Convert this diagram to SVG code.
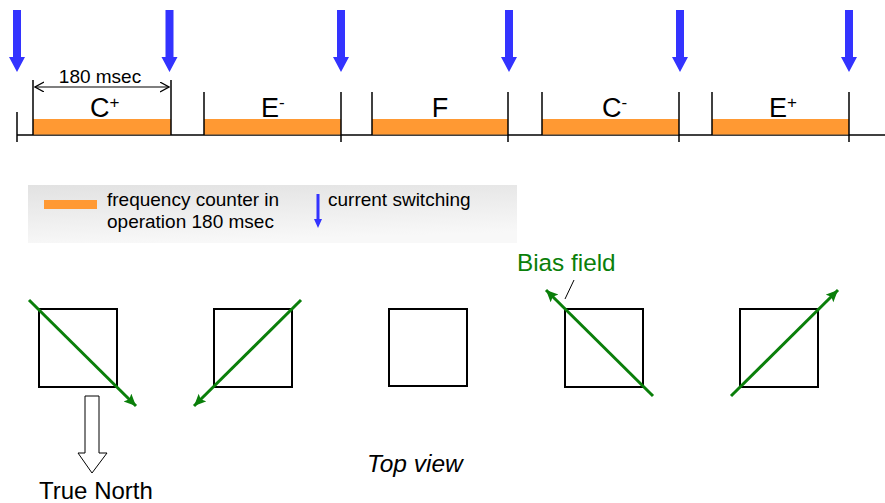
<svg xmlns="http://www.w3.org/2000/svg" width="885" height="503" viewBox="0 0 885 503">
<style>
.t{font-family:"Liberation Sans",Arial,sans-serif;fill:#000}
.tick{stroke:#000;stroke-width:1.5;fill:none}
.bar{fill:#FF9933}
.blue{fill:#3333FF}
.sq{fill:none;stroke:#000;stroke-width:2}
.field{stroke:#0A7F0A;stroke-width:3;fill:none;marker-end:url(#gh)}
</style>
<defs>
<marker id="gh" markerUnits="userSpaceOnUse" markerWidth="13" markerHeight="12" refX="12" refY="5.5" orient="auto" viewBox="0 0 13 12">
<path d="M0,0 L12,5.5 L0,11 L2.5,5.5 z" fill="#0A7F0A"/>
</marker>
<marker id="oa" markerUnits="userSpaceOnUse" markerWidth="10" markerHeight="12" refX="9" refY="5" orient="auto-start-reverse" viewBox="0 0 10 12">
<path d="M0,0 L9,5 L0,10" fill="none" stroke="#000" stroke-width="1.2"/>
</marker>
<linearGradient id="lg" x1="0" y1="0" x2="0.25" y2="1">
<stop offset="0" stop-color="#e2e2e2"/>
<stop offset="1" stop-color="#f8f8f8"/>
</linearGradient>
<polygon id="barrow" points="-4,10 4,10 4,57 8,57 0,72 -8,57 -4,57"/>
</defs>

<g id="timeline">
<line class="tick" x1="17" y1="135" x2="885" y2="135"/>
<rect class="bar" x="33" y="119" width="138" height="15.5"/>
<rect class="bar" x="204" y="119" width="137" height="15.5"/>
<rect class="bar" x="372" y="119" width="136" height="15.5"/>
<rect class="bar" x="542" y="119" width="137" height="15.5"/>
<rect class="bar" x="712" y="119" width="137" height="15.5"/>
<line class="tick" x1="17" y1="112" x2="17" y2="142"/>
<line class="tick" x1="33" y1="80" x2="33" y2="135"/>
<line class="tick" x1="171" y1="80" x2="171" y2="135"/>
<line class="tick" x1="204" y1="92" x2="204" y2="135"/>
<line class="tick" x1="341" y1="92" x2="341" y2="142"/>
<line class="tick" x1="372" y1="92" x2="372" y2="135"/>
<line class="tick" x1="508" y1="92" x2="508" y2="142"/>
<line class="tick" x1="542" y1="92" x2="542" y2="135"/>
<line class="tick" x1="679" y1="92" x2="679" y2="142"/>
<line class="tick" x1="712" y1="92" x2="712" y2="135"/>
<line class="tick" x1="849" y1="92" x2="849" y2="142"/>
</g>

<g id="switch-arrows">
<use href="#barrow" class="blue" x="17" y="0"/>
<use href="#barrow" class="blue" x="169.5" y="0"/>
<use href="#barrow" class="blue" x="341" y="0"/>
<use href="#barrow" class="blue" x="509" y="0"/>
<use href="#barrow" class="blue" x="680" y="0"/>
<use href="#barrow" class="blue" x="849" y="0"/>
</g>

<g id="duration">
<line x1="35" y1="87" x2="169" y2="87" stroke="#000" stroke-width="1.2" marker-start="url(#oa)" marker-end="url(#oa)"/>
<text class="t" x="100" y="83" font-size="19" text-anchor="middle">180 msec</text>
</g>

<g id="labels">
<text class="t" x="90" y="116.5" font-size="27">C<tspan font-size="17" dy="-9">+</tspan></text>
<text class="t" x="261" y="116.5" font-size="27">E<tspan font-size="17" dy="-9">-</tspan></text>
<text class="t" x="440" y="116.5" font-size="27" text-anchor="middle">F</text>
<text class="t" x="602" y="116.5" font-size="27">C<tspan font-size="17" dy="-9">-</tspan></text>
<text class="t" x="769" y="116.5" font-size="27">E<tspan font-size="17" dy="-9">+</tspan></text>
</g>

<g id="legend">
<rect x="28" y="185" width="489" height="58" fill="url(#lg)"/>
<rect class="bar" x="44" y="200" width="53" height="9"/>
<text class="t" x="107" y="206" font-size="19">frequency counter in</text>
<text class="t" x="107" y="228" font-size="19">operation 180 msec</text>
<polygon class="blue" points="316.5,194 319.5,194 319.5,219 322,219 318,228 314,219 316.5,219"/>
<text class="t" x="328" y="206" font-size="19">current switching</text>
</g>

<g id="square1">
<rect class="sq" x="39" y="309" width="78" height="78"/>
<line class="field" x1="29" y1="300" x2="136" y2="406"/>
</g>
<g id="square2">
<rect class="sq" x="214" y="309" width="78" height="78"/>
<line class="field" x1="301" y1="300" x2="194" y2="406"/>
</g>
<g id="square3">
<rect class="sq" x="389" y="309" width="78" height="77"/>
</g>
<g id="square4">
<rect class="sq" x="565" y="309" width="78" height="78"/>
<line class="field" x1="653" y1="396" x2="546" y2="290"/>
</g>
<g id="square5">
<rect class="sq" x="740" y="309" width="78" height="78"/>
<line class="field" x1="731" y1="396" x2="838" y2="290"/>
</g>

<g id="bias-label">
<text class="t" x="517" y="271" font-size="24.3" style="fill:#0A7F0A">Bias field</text>
<line x1="574" y1="280" x2="565" y2="299" stroke="#000" stroke-width="1"/>
</g>

<g id="true-north">
<polygon points="85,396 99,396 99,453 107,453 92,473 78,453 85,453" fill="#fff" stroke="#000" stroke-width="1"/>
<text class="t" x="39" y="499" font-size="24">True North</text>
</g>

<g id="top-view">
<text class="t" x="367" y="472" font-size="24.5" font-style="italic">Top view</text>
</g>
</svg>
